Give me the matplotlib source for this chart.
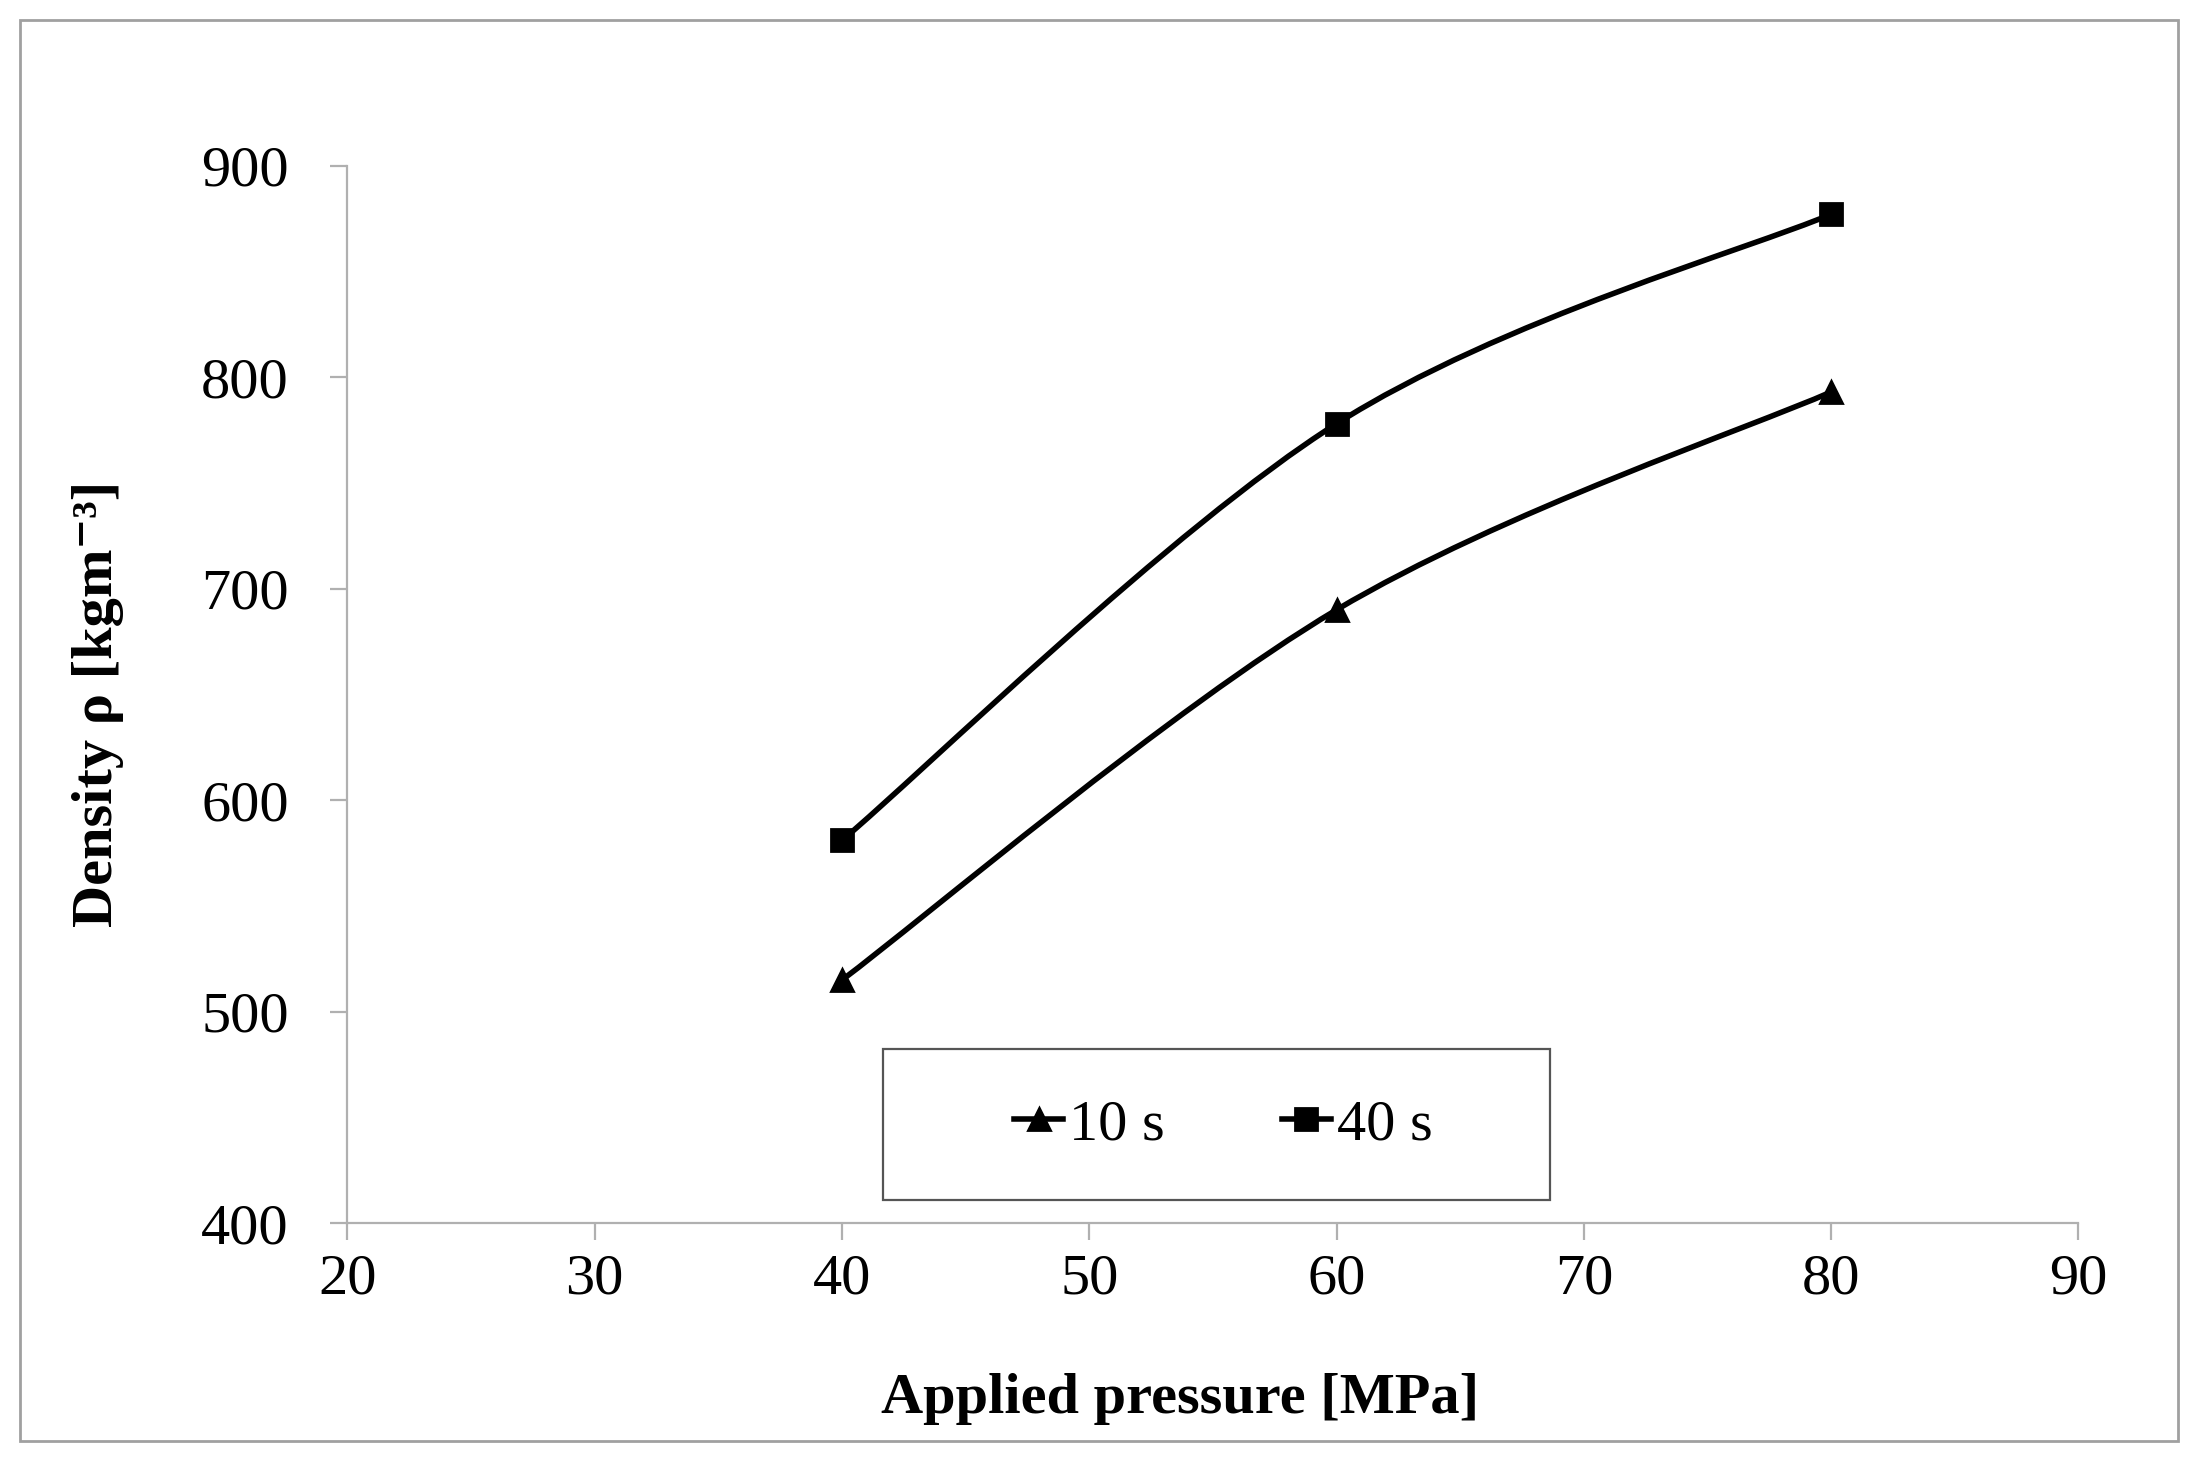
import numpy as np
import matplotlib
matplotlib.use("Agg")
import matplotlib.pyplot as plt
from matplotlib.path import Path
from matplotlib.patches import PathPatch, Rectangle
from matplotlib.lines import Line2D

# data
pressure = [40, 60, 80]
density_10s = [515, 690, 793]
density_40s = [581, 778, 877]
series_labels = ["10 s", "40 s"]
x_ticks = [20, 30, 40, 50, 60, 70, 80, 90]
y_ticks = [400, 500, 600, 700, 800, 900]

plt.rcParams["font.family"] = ["Liberation Serif", "DejaVu Serif"]


def smooth_path(x, y):
    # Excel-like smoothed line: cubic bezier through the points (catmull-rom)
    p = np.column_stack([x, y]).astype(float)
    n = len(p)
    verts = [p[0]]
    codes = [Path.MOVETO]
    for i in range(n - 1):
        p0 = p[i - 1] if i > 0 else p[i]
        p1 = p[i]
        p2 = p[i + 1]
        p3 = p[i + 2] if i + 2 < n else p[i + 1]
        c1 = p1 + (p2 - p0) / 6.0
        c2 = p2 - (p3 - p1) / 6.0
        verts += [c1, c2, p2]
        codes += [Path.CURVE4] * 3
    return Path(verts, codes)


fig = plt.figure(figsize=(10.99, 7.295), dpi=200)
ax = fig.add_axes([0.158, 0.1615, 0.7876, 0.725])

# outer frame
fig.patches.append(Rectangle((0.009, 0.0125), 0.982, 0.974, transform=fig.transFigure,
                             fill=False, edgecolor="#a0a0a0", linewidth=1.0))

lw = 2.0
for yv, mk in [(density_10s, "^"), (density_40s, "s")]:
    ax.add_patch(PathPatch(smooth_path(pressure, yv), fill=False, edgecolor="black",
                           linewidth=lw, transform=ax.transData))
    ax.plot(pressure, yv, linestyle="none", marker=mk, color="black", markersize=8)

ax.set_xlim(20, 90)
ax.set_ylim(400, 900)
ax.set_xticks(x_ticks)
ax.set_yticks(y_ticks)

for s in ["top", "right"]:
    ax.spines[s].set_visible(False)
for s in ["left", "bottom"]:
    ax.spines[s].set_color("#b0b0b0")
    ax.spines[s].set_linewidth(0.8)
ax.tick_params(axis="both", colors="#b0b0b0", length=6, width=0.8, labelcolor="black",
               labelsize=21)
ax.tick_params(axis="y", pad=15)
ax.tick_params(axis="x", pad=5)

ax.set_xlabel("Applied pressure [MPa]", fontsize=21, fontweight="bold")
ax.xaxis.set_label_coords(0.481, -0.166)
ax.xaxis.label.set_va("center")
ax.set_ylabel("Density ρ [kgm⁻³]", fontsize=21, fontweight="bold")
ax.yaxis.set_label_coords(-0.1438, 0.4907)
ax.yaxis.label.set_va("center")

# legend
handles = [Line2D([], [], color="black", linewidth=lw, marker="^", markersize=8),
           Line2D([], [], color="black", linewidth=lw, marker="s", markersize=8)]
ax.add_patch(Rectangle((0.3095, 0.0225), 0.3855, 0.142, transform=ax.transAxes,
                       fill=False, edgecolor="#555555", linewidth=0.8, clip_on=False))
ax.legend(handles, series_labels, loc="center", bbox_to_anchor=(0.506, 0.093),
          ncol=2, frameon=False, fontsize=21, handlelength=0.85, handletextpad=0.1,
          columnspacing=2.0)

fig.savefig("out.png", dpi=200)
